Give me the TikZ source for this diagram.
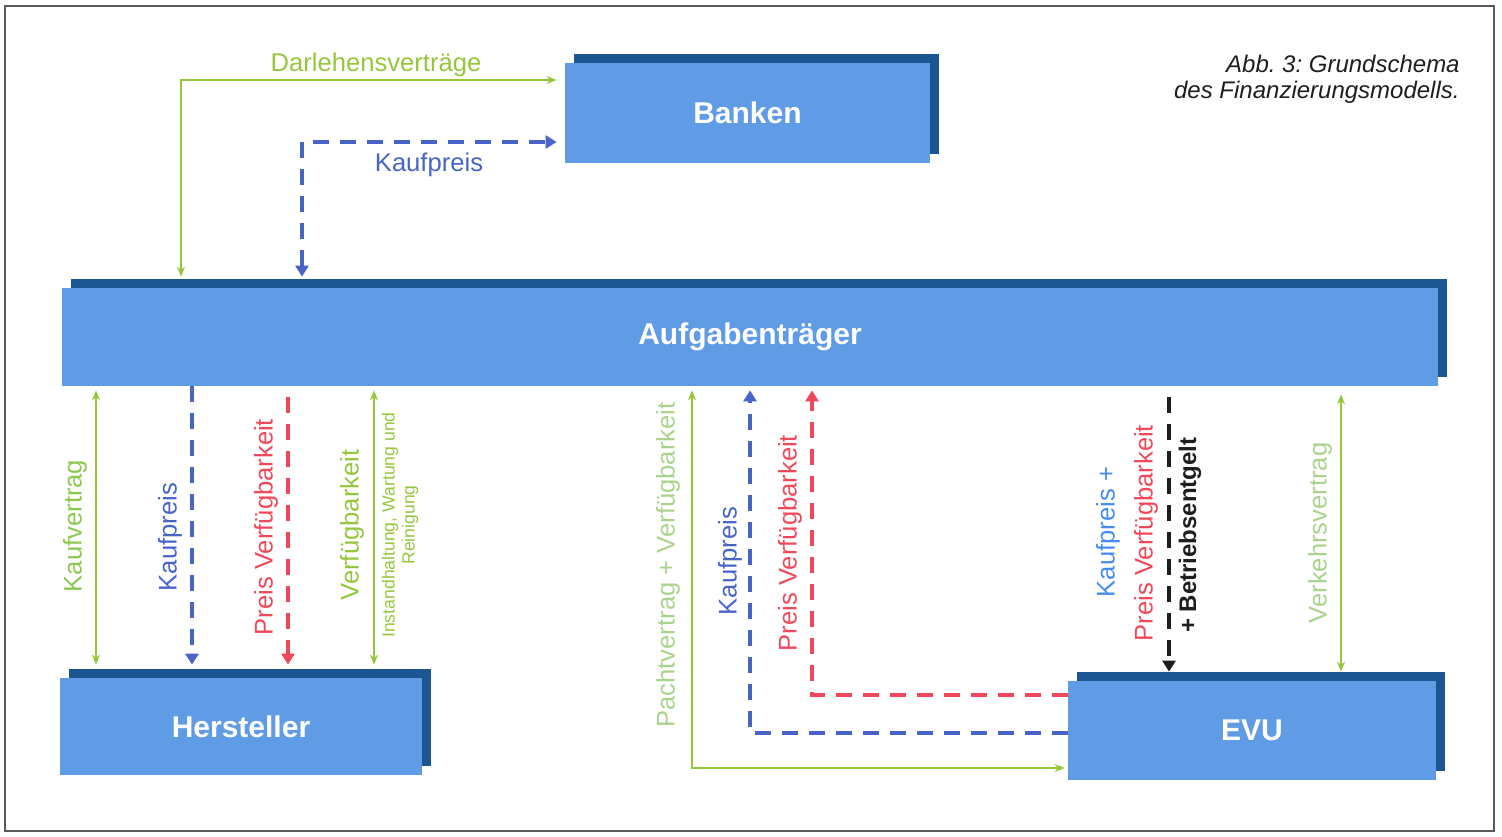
\documentclass[tikz,border=0pt]{standalone}
\usepackage{fontspec}
\setmainfont{Liberation Sans}
\usetikzlibrary{arrows.meta,shadows}
\frenchspacing
\definecolor{boxblue}{RGB}{96,155,230}
\definecolor{shadowblue}{RGB}{28,86,146}
\definecolor{lgreen}{RGB}{150,198,60}
\definecolor{tgreen}{RGB}{140,200,80}
\definecolor{pgreen}{RGB}{170,212,140}
\definecolor{dblue}{RGB}{72,100,200}
\definecolor{kblue}{RGB}{70,140,240}
\definecolor{pred}{RGB}{240,72,90}
\definecolor{dblack}{RGB}{30,30,30}
\definecolor{framegray}{RGB}{90,90,90}
\begin{document}
\begin{tikzpicture}[x=0.5pt,y=-0.5pt,
  box/.style={fill=boxblue, text=white, inner sep=0pt,
    font=\bfseries\fontsize{15}{18}\selectfont,
    general shadow={fill=shadowblue, shadow xshift=4.5pt, shadow yshift=4.5pt}},
  lbl/.style={font=\fontsize{12.8}{15}\selectfont, inner sep=0pt},
  vlbl/.style={lbl, rotate=90},
  gline/.style={draw=lgreen, line width=1pt},
  thinline/.style={draw=lgreen, line width=0.8pt},
  gtips/.style={{Stealth[length=5pt,width=4pt]}-{Stealth[length=5pt,width=4pt]}},
  dashbase/.style={line width=2pt, dash pattern=on 8pt off 5.5pt},
  bdash/.style={dashbase, draw=dblue},
  rdash/.style={dashbase, draw=pred},
  kdash/.style={dashbase, draw=dblack},
  tip/.style={-{Triangle[width=6.5pt,length=5.5pt]}},
  tips/.style={{Triangle[width=6.5pt,length=5.5pt]}-{Triangle[width=6.5pt,length=5.5pt]}}
]
\useasboundingbox (0,0) rectangle (1502,836);
\draw[framegray, line width=0.8pt] (5,6) rectangle (1494,831);

% boxes
\node[box, minimum width=182.5pt, minimum height=50pt] (banken) at (747.5,113) {Banken};
\node[box, minimum width=688pt, minimum height=49pt] (aufg) at (750,337) {Aufgabenträger};
\node[box, minimum width=181pt, minimum height=48.5pt] (herst) at (241,726.5) {Hersteller};
\node[box, minimum width=184pt, minimum height=49.5pt] (evu) at (1252,730.5) {EVU};

% title
\node[anchor=north east, align=right, inner sep=0pt, text=dblack,
  font=\itshape\fontsize{12}{13}\selectfont] (title) at (1460,55)
  {Abb. 3: Grundschema\\des Finanzierungsmodells.};

% x positions
\coordinate (cA) at (181,80);
\coordinate (cB) at (302,142);
\coordinate (c1) at (96,0);
\coordinate (c2) at (192,0);
\coordinate (c3) at (288,0);
\coordinate (c4) at (374,0);
\coordinate (cP) at (692,768);
\coordinate (cK) at (750,733);
\coordinate (cR) at (812,695);
\coordinate (c5) at (1169,0);
\coordinate (c6) at (1341,0);

% top connectors
\draw[gline, gtips, shorten <=5.5pt, shorten >=4pt] (aufg.north -| cA) |- (banken.west |- cA);
\draw[bdash, tips, shorten <=5.5pt, shorten >=4pt] (aufg.north -| cB) |- (banken.west |- cB);
\node[lbl, text=lgreen] (ldarl) at (376,65) {Darlehensverträge};
\node[lbl, text=dblue] (lkp1) at (429,165) {Kaufpreis};

% Aufgabenträger - Hersteller
\draw[thinline, gtips, shorten <=2pt, shorten >=6.5pt] (aufg.south -| c1) -- (herst.north -| c1);
\draw[bdash, tip, shorten >=6.5pt] (aufg.south -| c2) -- (herst.north -| c2);
\draw[rdash, tip, shorten <=5.5pt, shorten >=6.5pt] (aufg.south -| c3) -- (herst.north -| c3);
\draw[gline, gtips, shorten <=2pt, shorten >=6.5pt] (aufg.south -| c4) -- (herst.north -| c4);
\node[vlbl, text=tgreen] (lkv) at (75,526) {Kaufvertrag};
\node[vlbl, text=dblue] (lkp2) at (170,537) {Kaufpreis};
\node[vlbl, text=pred] (lpv1) at (266,527) {Preis Verfügbarkeit};
\node[vlbl, text=lgreen] (lvf) at (352,525) {Verfügbarkeit};
\node[rotate=90, align=center, inner sep=0pt, text=lgreen,
  font=\fontsize{8.8}{10}\selectfont] (linst) at (400,525)
  {Instandhaltung, Wartung und\\Reinigung};

% Aufgabenträger - EVU
\draw[gline, gtips, shorten <=2pt, shorten >=1.5pt] (aufg.south -| cP) |- (evu.west |- cP);
\draw[bdash, tip, shorten >=2pt] (evu.west |- cK) -| (aufg.south -| cK);
\draw[rdash, tip, shorten >=2pt] (evu.west |- cR) -| (aufg.south -| cR);
\draw[kdash, tip, shorten <=5.5pt, shorten >=4.5pt] (aufg.south -| c5) -- (evu.north -| c5);
\draw[thinline, gtips, shorten <=4pt, shorten >=4.5pt] (aufg.south -| c6) -- (evu.north -| c6);
\node[vlbl, text=pgreen] (lpacht) at (668,565) {Pachtvertrag + Verfügbarkeit};
\node[vlbl, text=dblue] (lkp3) at (730,561) {Kaufpreis};
\node[vlbl, text=pred] (lpv2) at (790,543) {Preis Verfügbarkeit};
\node[vlbl, text=kblue] (lkp4) at (1108,532) {Kaufpreis +};
\node[vlbl, text=pred] (lpv3) at (1146,533) {Preis Verfügbarkeit};
\node[rotate=90, inner sep=0pt, text=dblack, font=\bfseries\fontsize{12}{14}\selectfont] (lbe) at (1190,535) {+ Betriebsentgelt};
\node[vlbl, text=pgreen] (lvv) at (1320,533) {Verkehrsvertrag};
\end{tikzpicture}
\end{document}
